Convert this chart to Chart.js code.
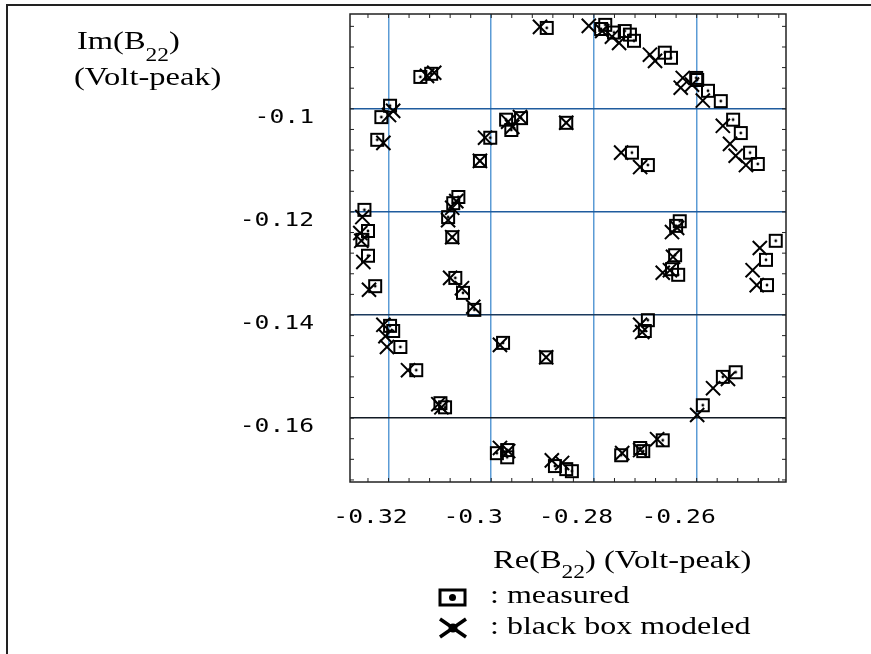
<!DOCTYPE html>
<html>
<head>
<meta charset="utf-8">
<script src="https://cdn.jsdelivr.net/npm/chart.js@4"></script>
<style>
  html, body { margin: 0; padding: 0; background: #fff; }
  canvas { display: block; }
</style>
</head>
<body>
<canvas id="b22Chart" width="871" height="654" style="width:871px;height:654px"></canvas>
<script>
// B22 measured (squares) - Re / Im in Volt-peak
const measuredRe = [
  -0.2892, -0.3138, -0.3117, -0.3197, -0.3214, -0.3222, -0.3002, -0.3022, -0.2971, -0.2961,
  -0.2942, -0.2854, -0.2778, -0.2786, -0.2761, -0.2740, -0.2730, -0.2722, -0.2662, -0.2650,
  -0.2601, -0.2599, -0.2578, -0.2553, -0.2529, -0.2514, -0.2496, -0.2481, -0.2726, -0.2695,
  -0.3064, -0.3074, -0.3084, -0.3076, -0.3247, -0.3240, -0.3251, -0.3240, -0.3226, -0.3070,
  -0.3055, -0.3033, -0.2633, -0.2640, -0.2642, -0.2648, -0.2636, -0.2446, -0.2465, -0.2463,
  -0.2695, -0.2701, -0.3197, -0.3191, -0.3177, -0.3146, -0.3099, -0.3090, -0.2977, -0.2893,
  -0.2588, -0.2549, -0.2524, -0.2989, -0.2969, -0.2969, -0.2876, -0.2854, -0.2843, -0.2747,
  -0.2710, -0.2704, -0.2666
];
const measuredIm = [
  -0.0843, -0.0938, -0.0932, -0.0994, -0.1016, -0.1060, -0.1056, -0.1101, -0.1021, -0.1041,
  -0.1018, -0.1027, -0.0837, -0.0845, -0.0852, -0.0849, -0.0856, -0.0868, -0.0891, -0.0901,
  -0.0940, -0.0944, -0.0965, -0.0985, -0.1021, -0.1047, -0.1085, -0.1107, -0.1085, -0.1109,
  -0.1171, -0.1183, -0.1210, -0.1249, -0.1196, -0.1237, -0.1254, -0.1285, -0.1344, -0.1328,
  -0.1357, -0.1390, -0.1218, -0.1227, -0.1284, -0.1311, -0.1322, -0.1256, -0.1293, -0.1342,
  -0.1410, -0.1431, -0.1421, -0.1431, -0.1462, -0.1507, -0.1571, -0.1579, -0.1454, -0.1482,
  -0.1575, -0.1520, -0.1511, -0.1668, -0.1662, -0.1676, -0.1693, -0.1699, -0.1703, -0.1672,
  -0.1658, -0.1664, -0.1643
];

// B22 black box modeled (crosses)
const modeledRe = [
  -0.2905, -0.3125, -0.3111, -0.3191, -0.3199, -0.3210, -0.3012, -0.3022, -0.2967, -0.2959,
  -0.2944, -0.2854, -0.2810, -0.2784, -0.2765, -0.2751, -0.2691, -0.2681, -0.2627, -0.2631,
  -0.2609, -0.2588, -0.2549, -0.2535, -0.2524, -0.2504, -0.2747, -0.2710, -0.3068, -0.3076,
  -0.3084, -0.3076, -0.3251, -0.3255, -0.3253, -0.3249, -0.3238, -0.3080, -0.3057, -0.3035,
  -0.2648, -0.2638, -0.2646, -0.2666, -0.2652, -0.2477, -0.2491, -0.2483, -0.2710, -0.2706,
  -0.3210, -0.3206, -0.3203, -0.3162, -0.3103, -0.3097, -0.2983, -0.2893, -0.2599, -0.2568,
  -0.2539, -0.2983, -0.2967, -0.2882, -0.2862, -0.2745, -0.2710, -0.2677
];
const modeledIm = [
  -0.0841, -0.0936, -0.0930, -0.1004, -0.1012, -0.1066, -0.1056, -0.1101, -0.1025, -0.1035,
  -0.1016, -0.1027, -0.0839, -0.0849, -0.0860, -0.0872, -0.0895, -0.0907, -0.0940, -0.0959,
  -0.0953, -0.0984, -0.1033, -0.1068, -0.1091, -0.1109, -0.1085, -0.1113, -0.1179, -0.1192,
  -0.1216, -0.1249, -0.1210, -0.1241, -0.1256, -0.1297, -0.1351, -0.1328, -0.1348, -0.1384,
  -0.1239, -0.1231, -0.1287, -0.1318, -0.1313, -0.1270, -0.1313, -0.1342, -0.1419, -0.1433,
  -0.1419, -0.1441, -0.1462, -0.1507, -0.1573, -0.1579, -0.1458, -0.1482, -0.1594, -0.1542,
  -0.1524, -0.1658, -0.1664, -0.1682, -0.1687, -0.1668, -0.1662, -0.1641
];

// axes
const xTicks = [-0.32, -0.30, -0.28, -0.26];
const xTickLabels = ['-0.32', '-0.3', '-0.28', '-0.26'];
const yTicks = [-0.10, -0.12, -0.14, -0.16];
const yTickLabels = ['-0.1', '-0.12', '-0.14', '-0.16'];
const minorStep = 0.004;

const yGridColors = ['#1f5c9e', '#1f5c9e', '#1b3a5e', '#111a24'];
const serif = '"Liberation Serif", "Times New Roman", serif';
const mono = '"DejaVu Sans Mono", monospace';
const SX = 1.3;

// square-with-dot marker
const squareMark = document.createElement('canvas');
squareMark.width = 16; squareMark.height = 16;
(function () {
  const c = squareMark.getContext('2d');
  c.strokeStyle = '#000';
  c.lineWidth = 2;
  c.strokeRect(2, 2, 12, 12);
  c.fillStyle = '#000';
  c.beginPath(); c.arc(8, 8, 1.4, 0, Math.PI * 2); c.fill();
})();

function sText(ctx, str, x, y, font, sx, align) {
  ctx.save();
  ctx.font = font;
  ctx.textAlign = align || 'left';
  ctx.textBaseline = 'alphabetic';
  ctx.translate(x, y);
  ctx.scale(sx, 1);
  ctx.fillText(str, 0, 0);
  const w = ctx.measureText(str).width * sx;
  ctx.restore();
  return w;
}

const decorPlugin = {
  id: 'decor',
  beforeDraw(chart) {
    const ctx = chart.ctx;
    ctx.save();
    ctx.fillStyle = '#fff';
    ctx.fillRect(0, 0, chart.width, chart.height);
    ctx.restore();
  },
  afterDraw(chart) {
    const ctx = chart.ctx;
    const a = chart.chartArea;
    const xs = chart.scales.x, ys = chart.scales.y;
    ctx.save();

    // outer border (left + top)
    ctx.fillStyle = '#222';
    ctx.fillRect(6, 4, 2, chart.height - 4);
    ctx.fillRect(6, 4, chart.width - 6, 2);

    // plot frame
    ctx.strokeStyle = '#222';
    ctx.lineWidth = 1.5;
    ctx.strokeRect(a.left, a.top, a.right - a.left, a.bottom - a.top);

    // minor ticks, all four sides, pointing inward
    ctx.lineWidth = 1;
    ctx.beginPath();
    for (let k = -2; k <= 25; k++) {
      const v = xTicks[0] + k * minorStep;
      const px = xs.getPixelForValue(v);
      if (px <= a.left + 1 || px >= a.right - 1) continue;
      ctx.moveTo(px, a.bottom); ctx.lineTo(px, a.bottom - 4);
      ctx.moveTo(px, a.top); ctx.lineTo(px, a.top + 4);
    }
    for (let k = -6; k <= 20; k++) {
      const v = yTicks[0] - k * minorStep;
      const py = ys.getPixelForValue(v);
      if (py <= a.top + 1 || py >= a.bottom - 1) continue;
      ctx.moveTo(a.left, py); ctx.lineTo(a.left + 4, py);
      ctx.moveTo(a.right, py); ctx.lineTo(a.right - 4, py);
    }
    ctx.stroke();

    // tick labels
    ctx.fillStyle = '#000';
    xTicks.forEach((v, i) => {
      sText(ctx, xTickLabels[i], xs.getPixelForValue(v) - 18, 523, '19px ' + mono, SX, 'center');
    });
    yTicks.forEach((v, i) => {
      sText(ctx, yTickLabels[i], 314, ys.getPixelForValue(v) + 14, '19px ' + mono, SX, 'right');
    });

    // y-axis title
    let x = 77;
    x += sText(ctx, 'Im(B', x, 49, '25px ' + serif, SX);
    x += sText(ctx, '22', x, 61, '18px ' + serif, SX);
    sText(ctx, ')', x, 49, '25px ' + serif, SX);
    sText(ctx, '(Volt-peak)', 74, 85, '25px ' + serif, SX);

    // x-axis title
    x = 493;
    x += sText(ctx, 'Re(B', x, 568, '25px ' + serif, SX);
    x += sText(ctx, '22', x, 578, '18px ' + serif, SX);
    sText(ctx, ') (Volt-peak)', x, 568, '25px ' + serif, SX);

    // legend
    ctx.strokeStyle = '#000';
    ctx.fillStyle = '#000';
    ctx.lineWidth = 3;
    ctx.strokeRect(440, 590, 25, 15);
    ctx.beginPath(); ctx.arc(452.5, 597.5, 3.5, 0, Math.PI * 2); ctx.fill();
    ctx.lineWidth = 3.5;
    ctx.beginPath();
    ctx.moveTo(440, 619); ctx.lineTo(466, 637);
    ctx.moveTo(440, 637); ctx.lineTo(466, 619);
    ctx.stroke();
    ctx.beginPath(); ctx.arc(453, 628, 4.5, 0, Math.PI * 2); ctx.fill();
    sText(ctx, ': measured', 490, 603, '25px ' + serif, 1.28);
    sText(ctx, ': black box modeled', 490, 634, '25px ' + serif, 1.28);

    ctx.restore();
  }
};

const modeledPoints = modeledRe.map((v, i) => ({ x: v, y: modeledIm[i] }));
const measuredPoints = measuredRe.map((v, i) => ({ x: v, y: measuredIm[i] }));

const config = {
  type: 'scatter',
  data: {
    datasets: [
      {
        label: 'black box modeled',
        data: modeledPoints,
        pointStyle: 'crossRot',
        pointRadius: 10,
        borderColor: '#000',
        backgroundColor: 'rgba(0,0,0,0)',
        pointBorderWidth: 2
      },
      {
        label: 'measured',
        data: measuredPoints,
        pointStyle: squareMark,
        pointRadius: 8,
        borderColor: '#000',
        backgroundColor: 'rgba(0,0,0,0)'
      }
    ]
  },
  options: {
    responsive: false,
    animation: false,
    devicePixelRatio: 1,
    events: [],
    layout: {
      autoPadding: false,
      padding: { left: 350, top: 14, right: 85, bottom: 172 }
    },
    plugins: {
      legend: { display: false },
      title: { display: false },
      tooltip: { enabled: false }
    },
    scales: {
      x: {
        type: 'linear',
        min: -0.3275,
        max: -0.2426,
        afterBuildTicks: (scale) => { scale.ticks = xTicks.map(v => ({ value: v })); },
        afterFit: (scale) => { scale.height = 0; },
        ticks: { display: false },
        border: { display: false },
        grid: { color: '#5b9bd5', lineWidth: 1.5, drawTicks: false }
      },
      y: {
        type: 'linear',
        min: -0.1724,
        max: -0.0816,
        afterBuildTicks: (scale) => { scale.ticks = yTicks.map(v => ({ value: v })); },
        afterFit: (scale) => { scale.width = 0; },
        ticks: { display: false },
        border: { display: false },
        grid: {
          color: (c) => yGridColors[yTicks.indexOf(c.tick.value)] || '#1f5c9e',
          lineWidth: 1.5,
          drawTicks: false
        }
      }
    }
  },
  plugins: [decorPlugin]
};

window.addEventListener('load', () => {
  const ctx = document.getElementById('b22Chart').getContext('2d');
  new Chart(ctx, config);
});
</script>
</body>
</html>
